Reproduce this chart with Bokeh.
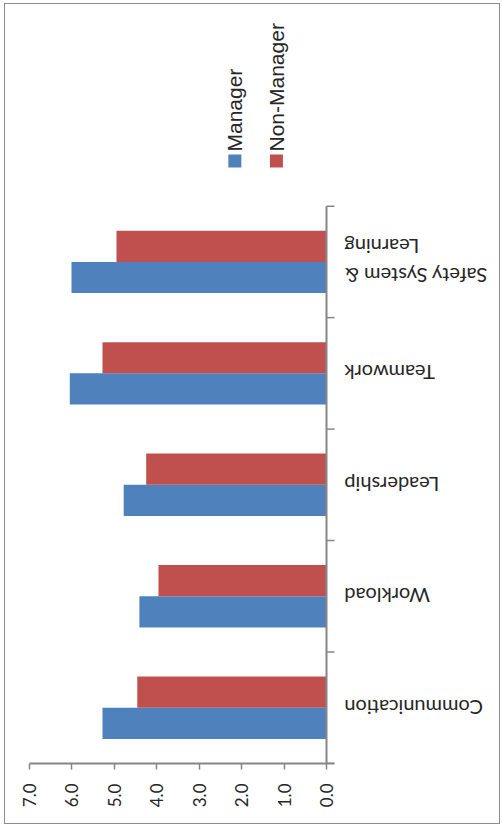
import math
from bokeh.plotting import figure
from bokeh.models import Range1d, FixedTicker, PrintfTickFormatter
from bokeh.core.properties import value
from bokeh.embed import file_html
from bokeh.resources import INLINE

# ---- data ----
categories = ["Communication", "Workload", "Leadership", "Teamwork", "Safety System &\nLearning"]
manager = [5.28, 4.41, 4.78, 6.05, 6.01]
non_manager = [4.46, 3.96, 4.25, 5.28, 4.95]
value_ticks = [0, 1, 2, 3, 4, 5, 6, 7]
series_names = ["Manager", "Non-Manager"]
series_colors = ["#4F81BD", "#C0504D"]

W, H = 496, 821
px_per_unit = 297 / 7.0
x_end = -(W - 24 - 297) / px_per_unit   # frame continues to the right of 0 for the category labels
p = figure(width=W, height=H, output_backend="svg", toolbar_location=None,
           x_range=Range1d(7.0, x_end), y_range=Range1d(0, 6.80),
           min_border_left=24, min_border_right=0, min_border_top=1, min_border_bottom=62)
p.styles = {"margin-left": "4px", "margin-top": "3px", "border": "1.5px solid #8c8c8c"}
p.outline_line_color = None
p.xgrid.grid_line_color = None
p.ygrid.grid_line_color = None
p.yaxis.visible = False
p.background_fill_color = "white"
p.border_fill_color = "white"

n = len(categories)
bar_h = 0.28
centers = [i + 0.5 for i in range(n)]
p.hbar(y=[c - bar_h / 2 for c in centers], left=manager, right=0, height=bar_h,
       fill_color=series_colors[0], line_color=None)
p.hbar(y=[c + bar_h / 2 for c in centers], left=non_manager, right=0, height=bar_h,
       fill_color=series_colors[1], line_color=None)

axis_col = "#868686"
text_col = "#262626"
tick_len = 8 / px_per_unit
# category axis at value 0: line and boundary ticks
p.segment(x0=[0], y0=[0], x1=[0], y1=[n], line_color=axis_col, line_width=2)
bounds = list(range(n + 1))
p.segment(x0=[0] * len(bounds), y0=bounds, x1=[-tick_len] * len(bounds), y1=bounds,
          line_color=axis_col, line_width=1.5)

# category labels, upside down, ending next to the axis
p.text(x=[-0.42] * n, y=centers, text=categories, angle=math.pi,
       text_align="right", text_baseline="middle",
       text_font=value("Lato"), text_font_size="20px", text_color=text_col)

# value axis (below)
xa = p.xaxis[0]
xa.ticker = FixedTicker(ticks=value_ticks)
xa.formatter = PrintfTickFormatter(format="%.1f")
xa.bounds = (-tick_len, max(value_ticks))
xa.axis_line_color = axis_col
xa.axis_line_width = 2
xa.major_tick_out = 6
xa.major_tick_in = 0
xa.major_tick_line_color = axis_col
xa.major_tick_line_width = 1.5
xa.minor_tick_line_color = None
xa.major_label_orientation = math.pi / 2
xa.major_label_standoff = 14
xa.major_label_text_font = "Lato"
xa.major_label_text_font_size = "17px"
xa.major_label_text_color = text_col

# legend (rotated)
leg_x = [2.16, 1.18]
p.scatter(x=leg_x, y=[5.405, 5.405], marker="square", size=13,
          fill_color=series_colors, line_color=None)
p.text(x=leg_x, y=[5.49, 5.49], text=series_names, angle=math.pi / 2,
       text_align="left", text_baseline="middle",
       text_font=value("Liberation Sans"), text_font_size="21px", text_color=text_col)

open("out.html", "w").write(file_html(p, INLINE))
